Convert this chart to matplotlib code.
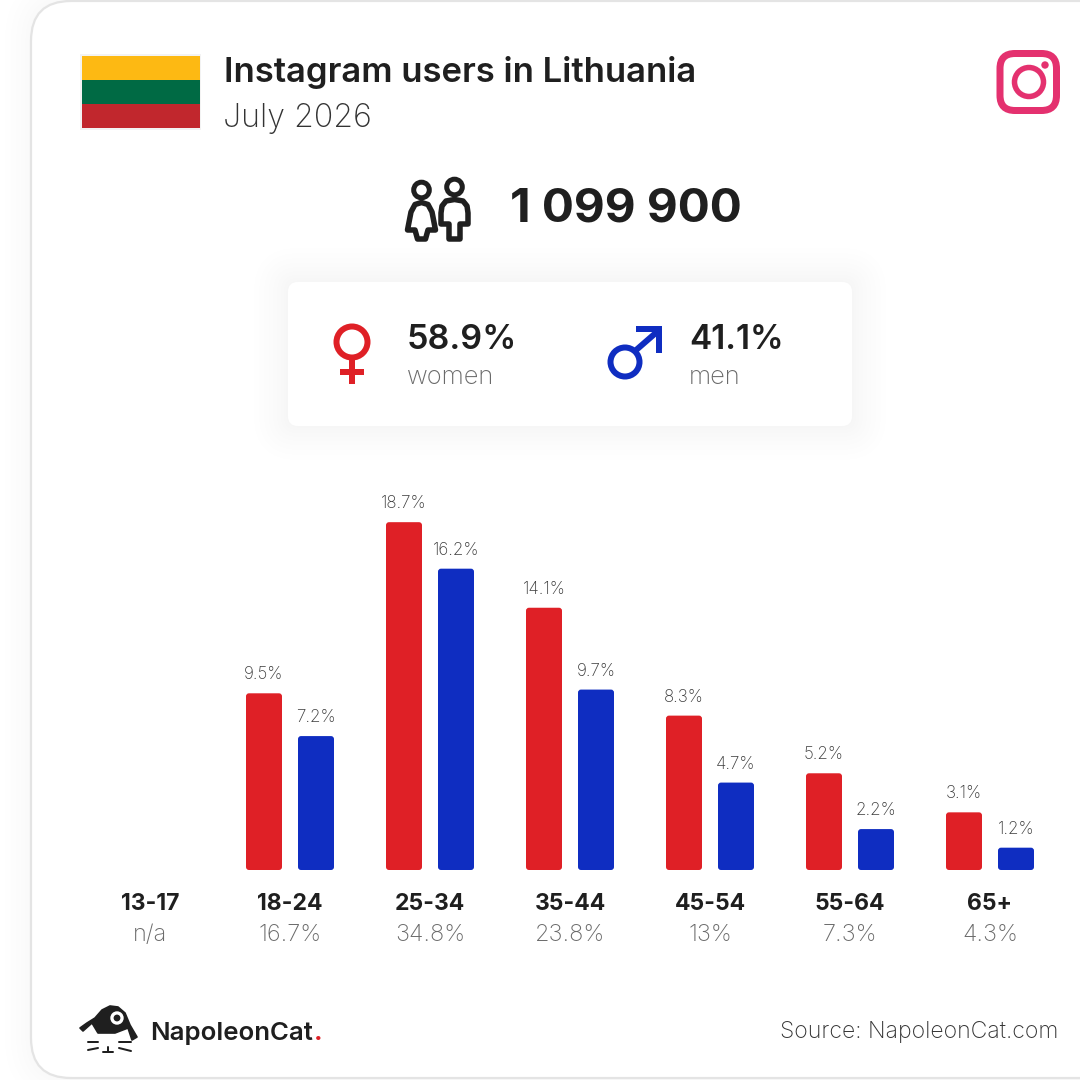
import matplotlib
matplotlib.use("Agg")
import matplotlib.pyplot as plt
from matplotlib.patches import FancyBboxPatch, Circle, Ellipse, Polygon, Rectangle
import numpy as np

ages = ['13-17', '18-24', '25-34', '35-44', '45-54', '55-64', '65+']
totals = ['n/a', '16.7%', '34.8%', '23.8%', '13%', '7.3%', '4.3%']
women = [None, 9.5, 18.7, 14.1, 8.3, 5.2, 3.1]
men = [None, 7.2, 16.2, 9.7, 4.7, 2.2, 1.2]

title = 'Instagram users in Lithuania'
date = 'July 2026'
user_count = '1 099 900'
women_share = '58.9%'
men_share = '41.1%'

RED = '#df2026'
BLUE = '#0f2dc1'
INK = '#1f1f1f'
GREY = '#6a6a6a'
FONT = 'Inter'
PX = 0.72  # one pixel in points at dpi 100
PCT = 18.6  # pixels per percent
GROUP = 140  # pixels per age group

plt.rcParams['font.family'] = [FONT, 'DejaVu Sans']

fig = plt.figure(figsize=(10.8, 10.8), dpi=100, facecolor='white')

# page furniture in pixel coordinates
bg = fig.add_axes([0, 0, 1, 1])
bg.set_xlim(0, 1080)
bg.set_ylim(1080, 0)
bg.axis('off')


def soft_shadow(x, y, w, h, r, spread, steps):
    # agg keeps 8 bit alpha, so each layer has to be at least one grey level
    for k in range(steps, 0, -1):
        s = spread * (k / steps) ** 1.4
        bg.add_patch(FancyBboxPatch((x - s, y - s), w + 2 * s, h + 2 * s,
                                    boxstyle=f'round,pad=0,rounding_size={r + s}',
                                    fc='black', ec='none', alpha=0.004))


# outer card
soft_shadow(31, 1, 1200, 1077, 40, 26, 6)
bg.add_patch(FancyBboxPatch((31, 1), 1200, 1077, boxstyle='round,pad=0,rounding_size=40',
                            fc='white', ec='#e4e4e4', lw=1.6))

# flag
bg.add_patch(Rectangle((80, 54), 121, 76, fc='#f3f3f3', ec='none'))
bg.add_patch(Rectangle((82, 56), 118, 24, fc='#fdb913', ec='none'))
bg.add_patch(Rectangle((82, 80), 118, 24, fc='#006a44', ec='none'))
bg.add_patch(Rectangle((82, 104), 118, 24, fc='#c1272d', ec='none'))

bg.text(224, 82, title, fontsize=34.7 * PX, fontweight='semibold', color=INK, va='baseline')
bg.text(223, 127, date, fontsize=32.2 * PX, fontweight='light', color='#333333', va='baseline')

# instagram glyph
IG = '#e4316f'
bg.add_patch(FancyBboxPatch((1000, 53.5), 56.5, 57, boxstyle='round,pad=0,rounding_size=15',
                            fc='none', ec=IG, lw=7 * PX))
bg.add_patch(Circle((1029, 82), 14.5, fc='none', ec=IG, lw=5.5 * PX))
bg.add_patch(Circle((1045, 65), 3.7, fc=IG, ec='none'))

# people glyph
bg.add_patch(Circle((421.5, 190), 7.8, fc='none', ec=INK, lw=5 * PX))
bg.add_patch(Circle((454.5, 187), 7.8, fc='none', ec=INK, lw=5 * PX))
woman_x = [421.5, 415, 411, 407.5, 415, 417.5, 425.5, 428, 435.5, 432, 428]
woman_y = [202.5, 204.5, 212, 230, 230, 239, 239, 230, 230, 212, 204.5]
bg.add_patch(Polygon(np.column_stack([woman_x, woman_y]), closed=True, fc='none', ec=INK,
                     lw=5.5 * PX, joinstyle='round'))
man_x = [454.5, 446, 442, 441, 441, 449, 449, 460, 460, 468, 468, 467, 463]
man_y = [199.5, 201, 206, 213, 224, 224, 239, 239, 224, 224, 213, 206, 201]
bg.add_patch(Polygon(np.column_stack([man_x, man_y]), closed=True, fc='none', ec=INK,
                     lw=5.5 * PX, joinstyle='round'))

bg.text(510, 222, user_count, fontsize=47.6 * PX, fontweight='bold', color=INK, va='baseline')

# gender panel
soft_shadow(288, 282, 564, 144, 10, 34, 9)
bg.add_patch(FancyBboxPatch((288, 282), 564, 144, boxstyle='round,pad=0,rounding_size=10',
                            fc='white', ec='none'))

bg.add_patch(Ellipse((352, 342), 31, 31, fc='none', ec=RED, lw=6 * PX))
bg.add_patch(Rectangle((349, 358), 6, 26, fc=RED, ec='none'))
bg.add_patch(Rectangle((340, 369), 24, 6, fc=RED, ec='none'))
bg.text(407, 349, women_share, fontsize=34 * PX, fontweight='semibold', color=INK, va='baseline')
bg.text(407, 384, 'women', fontsize=25.5 * PX, fontweight='light', color=GREY, va='baseline')

bg.add_patch(Circle((625, 362), 14.5, fc='none', ec=BLUE, lw=6 * PX))
bg.plot([635, 658], [351, 331], color=BLUE, lw=6 * PX, solid_capstyle='butt')
bg.add_patch(Polygon([[636, 326], [662, 326], [662, 353], [656, 353], [656, 332], [636, 332]],
                     closed=True, fc=BLUE, ec='none'))
bg.text(689, 349, men_share, fontsize=33.5 * PX, fontweight='semibold', color=INK, va='baseline')
bg.text(689, 384, 'men', fontsize=25.5 * PX, fontweight='light', color=GREY, va='baseline')

# bars
ax = fig.add_axes([0, 0, 1, 1], facecolor='none')
ax.set_xlim(-150 / GROUP, (1080 - 150) / GROUP)
ax.set_ylim(-(1080 - 870) / PCT, 870 / PCT)
ax.axis('off')

bar_w = 36 / GROUP
shift = 26 / GROUP
radius = 3 / GROUP

for i, age in enumerate(ages):
    for vals, side, col in ((women, -1, RED), (men, 1, BLUE)):
        v = vals[i]
        if v is None:
            continue
        x = i + side * shift
        ax.add_patch(FancyBboxPatch((x - bar_w / 2, 0), bar_w, v,
                                    boxstyle=f'round,pad=0,rounding_size={radius}',
                                    mutation_aspect=GROUP / PCT, fc=col, ec='none'))
        ax.annotate(f'{v}%', (x, v), xytext=(0, 14 * PX), textcoords='offset points',
                    ha='center', va='baseline', fontsize=17 * PX,
                    fontweight='light', color='#3c3c3c')
    ax.annotate(age, (i, 0), xytext=(0, -40 * PX), textcoords='offset points', ha='center',
                va='baseline', fontsize=23 * PX, fontweight='bold', color=INK)
    ax.annotate(totals[i], (i, 0), xytext=(0, -71 * PX), textcoords='offset points', ha='center',
                va='baseline', fontsize=23.5 * PX, fontweight='light', color=GREY)

# logo
cat_x = [80, 87, 95, 102, 110, 118, 125, 130, 137, 132, 128, 115, 98, 92, 83]
cat_y = [1028, 1023, 1018, 1010, 1006, 1007, 1013, 1025, 1037, 1040, 1028, 1033, 1033, 1023, 1031]
bg.add_patch(Polygon(np.column_stack([cat_x, cat_y]), closed=True, fc=INK, ec=INK, lw=1.2,
                     joinstyle='round'))
bg.add_patch(Circle((117, 1018), 6.7, fc='white', ec='none'))
bg.add_patch(Circle((117, 1018), 3.4, fc=INK, ec='none'))
for x0, y0, x1, y1 in [(88, 1042, 98, 1042), (88, 1050, 98, 1048), (119, 1042, 131, 1042),
                       (119, 1048, 131, 1051), (103, 1052, 113, 1052), (108, 1047, 108, 1052)]:
    bg.plot([x0, x1], [y0, y1], color=INK, lw=2 * PX, solid_capstyle='round')

bg.text(150, 1040, 'NapoleonCat', fontsize=25.8 * PX, fontweight='semibold', color=INK, va='baseline')
bg.text(314, 1040, '.', fontsize=25.8 * PX, fontweight='bold', color=RED, va='baseline')

bg.text(1058, 1038, 'Source: NapoleonCat.com', fontsize=23 * PX, fontweight='light', color='#333333',
        ha='right', va='baseline')

fig.savefig('out.png', dpi=100)
